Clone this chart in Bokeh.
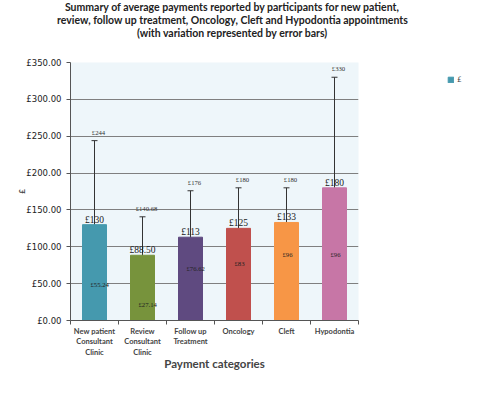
from bokeh.plotting import figure
from bokeh.models import (ColumnDataSource, FixedTicker, Label, Legend, LegendItem,
                          Whisker, TeeHead, LabelSet)
from bokeh.embed import file_html
from bokeh.resources import INLINE

categories = ["New patient\nConsultant\nClinic", "Review\nConsultant\nClinic",
              "Follow up\nTreatment", "Oncology", "Cleft", "Hypodontia"]
means = [130, 88.50, 113, 125, 133, 180]
mean_labels = ["£130", "£88.50", "£113", "£125", "£133", "£180"]
lower = [55.24, 27.14, 76.62, 83, 96, 96]
lower_labels = ["£55.24", "£27.14", "£76.62", "£83", "£96", "£96"]
upper = [244, 140.68, 176, 180, 180, 330]
upper_labels = ["£244", "£140.68", "£176", "£180", "£180", "£330"]
colors = ["#4599AE", "#77933C", "#5F4A80", "#C0504D", "#F79646", "#C776A6"]
y_ticks = [0, 50, 100, 150, 200, 250, 300, 350]
title_lines = ["Summary of average payments reported by participants for new patient,",
               "review, follow up treatment, Oncology, Cleft and Hypodontia appointments",
               "(with variation represented by error bars)"]

xs = [i + 0.5 for i in range(len(categories))]
src = ColumnDataSource(dict(x=xs, mean=means, mean_label=mean_labels, lower=lower,
                            lower_label=lower_labels, upper=upper,
                            upper_label=upper_labels, color=colors))

FW, FH = 288, 258
BL, BR, BT, BB = 70, 106, 62, 60
p = figure(frame_width=FW, frame_height=FH, output_backend="svg", toolbar_location=None,
           x_range=(0, len(categories)), y_range=(0, 350),
           min_border_left=BL, min_border_right=BR, min_border_top=BT,
           min_border_bottom=BB, title_location=None)
p.background_fill_color = "#EEF6FA"
p.border_fill_color = "white"
p.outline_line_color = None

r = p.vbar(x="x", top="mean", width=0.5, bottom=0, fill_color="color",
           line_color="color", source=src)

w = Whisker(base="x", lower="lower", upper="upper", source=src,
            line_color="#333333", line_width=1,
            upper_head=TeeHead(size=6, line_color="#333333", line_width=1),
            lower_head=TeeHead(size=6, line_color="#333333", line_width=1))
p.add_layout(w)

p.add_layout(LabelSet(x="x", y="mean", text="mean_label", source=src,
                      text_align="center", text_baseline="bottom", y_offset=0,
                      text_font="DejaVu Sans", text_font_size="9.5px",
                      text_color="#1a1a1a"))
p.add_layout(LabelSet(x="x", y="upper", text="upper_label", source=src,
                      text_align="center", text_baseline="bottom", y_offset=5,
                      x_offset=4, text_font="DejaVu Sans", text_font_size="6.7px",
                      text_color="#333333"))
p.add_layout(LabelSet(x="x", y="lower", text="lower_label", source=src,
                      text_align="left", text_baseline="top", y_offset=-1,
                      x_offset=-4, text_font="DejaVu Sans", text_font_size="6.7px",
                      text_color="#222222"))

# x axis
p.xaxis.ticker = FixedTicker(ticks=xs, minor_ticks=list(range(len(categories) + 1)))
p.xaxis.major_label_overrides = {x: c for x, c in zip(xs, categories)}
p.xaxis.major_tick_in = 0
p.xaxis.major_tick_out = 0
p.xaxis.minor_tick_in = 0
p.xaxis.minor_tick_out = 4
p.xaxis.minor_tick_line_color = "#555555"
p.xaxis.axis_line_color = "#555555"
p.xaxis.major_label_text_font = "Lato"
p.xaxis.major_label_text_font_style = "bold"
p.xaxis.major_label_text_font_size = "7.5px"
p.xaxis.major_label_text_line_height = 1.22
p.xaxis.major_label_standoff = 2
p.xaxis.axis_label = "Payment categories"
p.xaxis.axis_label_text_font = "Lato"
p.xaxis.axis_label_text_font_style = "bold"
p.xaxis.axis_label_text_font_size = "11.5px"
p.xaxis.axis_label_standoff = -3
p.xgrid.grid_line_color = None

# y axis
p.yaxis.ticker = FixedTicker(ticks=y_ticks, minor_ticks=[])
p.yaxis.major_label_overrides = {v: f"£{v:.2f}" for v in y_ticks}
p.yaxis.major_tick_in = 0
p.yaxis.major_tick_out = 4
p.yaxis.major_tick_line_color = "#555555"
p.yaxis.axis_line_color = "#555555"
p.yaxis.major_label_text_font = "DejaVu Sans"
p.yaxis.major_label_text_font_size = "8.5px"
p.yaxis.major_label_text_color = "#222222"
p.yaxis.axis_label = "£"
p.yaxis.axis_label_text_font = "Lato"
p.yaxis.axis_label_text_font_style = "bold"
p.yaxis.axis_label_text_font_size = "8px"
p.yaxis.axis_label_standoff = -4
p.ygrid.grid_line_color = "#7F7F7F"
p.ygrid.grid_line_width = 1.2

# title placed in the "above" panel (screen coords relative to that panel)
W = BL + FW + BR
p.add_layout(Label(x=W / 2 - BL, y=BT, x_units="screen", y_units="screen",
                   text="\n".join(title_lines), text_align="center",
                   text_baseline="top", text_line_height=1.12,
                   text_font="Lato", text_font_style="bold", text_font_size="10.5px",
                   text_color="#222222"), "above")

legend = Legend(items=[LegendItem(label="£", renderers=[r], index=0)],
                location=(89, FH - 22), padding=0, margin=0, spacing=0,
                glyph_width=7, glyph_height=7, label_height=7, label_standoff=3,
                label_text_font="DejaVu Sans", label_text_font_size="7.5px",
                border_line_color=None, background_fill_alpha=0)
p.add_layout(legend, "right")

open("out.html", "w").write(file_html(p, INLINE))
